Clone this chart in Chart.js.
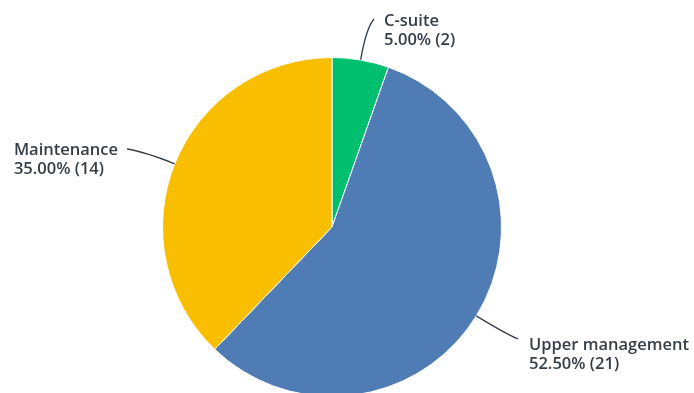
<!DOCTYPE html>
<html>
<head>
<meta charset="utf-8">
<script src="https://cdn.jsdelivr.net/npm/chart.js@4/dist/chart.umd.min.js"></script>
<style>
  html, body { margin: 0; padding: 0; background: #fff; overflow: hidden; }
  #wrap { position: absolute; left: 0; top: 0; width: 694px; height: 460px; }
</style>
</head>
<body>
<div id="wrap"><canvas id="pie"></canvas></div>
<script>
// answer choices and response counts
const categories = ["C-suite", "Upper management", "Maintenance"];
const counts = [2, 21, 14];
const percents = ["5.00%", "52.50%", "35.00%"];
const colors = ["#00bf6f", "#507cb6", "#f9be00"];

// where each label's text block sits (leader line ends at the anchor)
const labelSpots = [
  { x: 384, y: 26, align: "left", end: [374, 19] },
  { x: 529, y: 350, align: "left", end: [518, 339] },
  { x: 118, y: 155, align: "right", end: [127, 149] }
];

const leaderLabels = {
  id: "leaderLabels",
  afterDatasetsDraw(chart) {
    const ctx = chart.ctx;
    const arcs = chart.getDatasetMeta(0).data;
    ctx.save();
    arcs.forEach((arc, i) => {
      const p = arc.getProps(["x", "y", "startAngle", "endAngle", "outerRadius"], true);
      const mid = (p.startAngle + p.endAngle) / 2;
      const sx = p.x + Math.cos(mid) * p.outerRadius;
      const sy = p.y + Math.sin(mid) * p.outerRadius;
      const cx = p.x + Math.cos(mid) * (p.outerRadius + 32);
      const cy = p.y + Math.sin(mid) * (p.outerRadius + 32);
      const spot = labelSpots[i];
      ctx.beginPath();
      ctx.moveTo(sx, sy);
      ctx.quadraticCurveTo(cx, cy, spot.end[0], spot.end[1]);
      ctx.strokeStyle = "#333e48";
      ctx.lineWidth = 1.3;
      ctx.stroke();

      ctx.fillStyle = "#333e48";
      ctx.font = "600 16.5px 'Open Sans'";
      ctx.textAlign = "left";
      ctx.textBaseline = "alphabetic";
      let tx = spot.x;
      if (spot.align === "right") {
        // both lines share the left edge, like the reference
        tx = spot.x - ctx.measureText(categories[i]).width;
      }
      ctx.fillText(categories[i], tx, spot.y);
      ctx.fillText(percents[i] + " (" + counts[i] + ")", tx, spot.y + 19);
    });
    ctx.restore();
  }
};

new Chart(document.getElementById("pie"), {
  type: "pie",
  data: {
    labels: categories,
    datasets: [{
      data: counts,
      backgroundColor: colors,
      borderColor: "#ffffff",
      borderWidth: 1
    }]
  },
  options: {
    responsive: true,
    maintainAspectRatio: false,
    animation: false,
    layout: { padding: { top: 57, bottom: 63, left: 162, right: 192 } },
    plugins: {
      legend: { display: false },
      tooltip: { enabled: false }
    }
  },
  plugins: [leaderLabels]
});
</script>
</body>
</html>
